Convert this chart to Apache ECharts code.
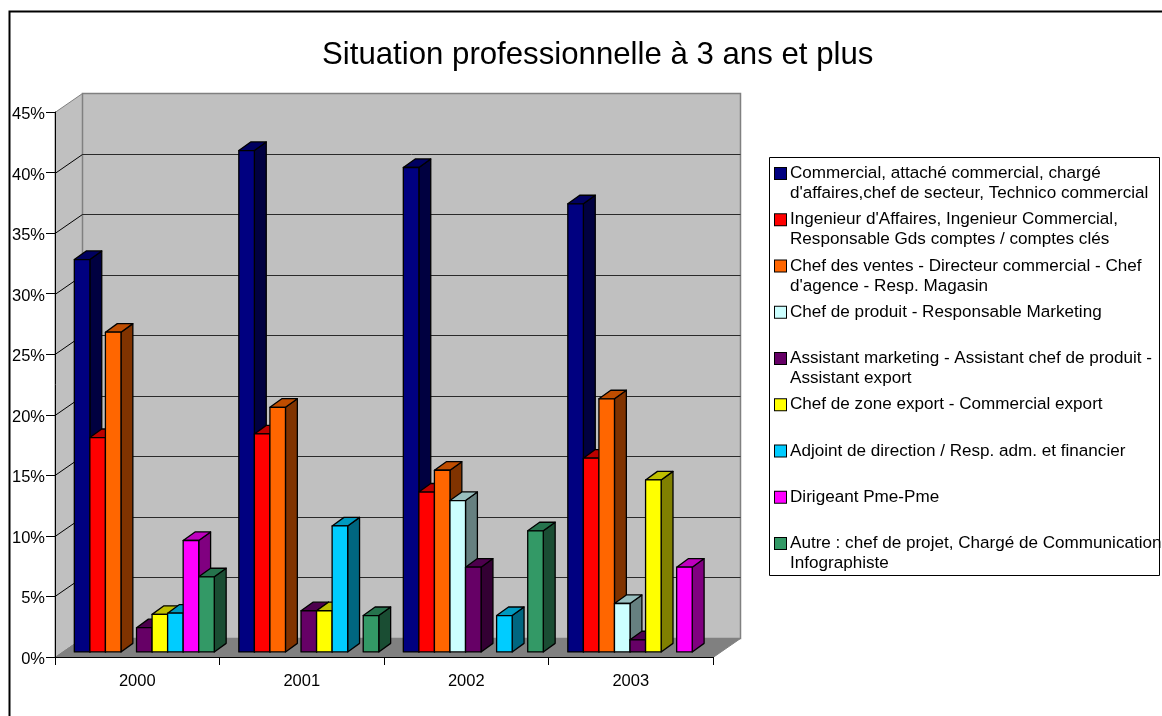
<!DOCTYPE html>
<html>
<head>
<meta charset="utf-8">
<style>html,body{margin:0;padding:0;background:#fff}#chart{width:1162px;height:716px}</style>
<script src="https://cdn.jsdelivr.net/npm/echarts@6/dist/echarts.min.js"></script>
</head>
<body>
<div id="chart"></div>
<script>
const years = ['2000', '2001', '2002', '2003'];
const yTicks = [0, 5, 10, 15, 20, 25, 30, 35, 40, 45];
const names = [
	"Commercial, attaché commercial, chargé\nd'affaires,chef de secteur, Technico commercial",
	"Ingenieur d'Affaires, Ingenieur Commercial,\nResponsable Gds comptes / comptes clés",
	"Chef des ventes - Directeur commercial - Chef\nd'agence - Resp. Magasin",
	"Chef de produit - Responsable Marketing",
	"Assistant marketing - Assistant chef de produit -\nAssistant export",
	"Chef de zone export - Commercial export",
	"Adjoint de direction / Resp. adm. et financier",
	"Dirigeant Pme-Pme",
	"Autre : chef de projet, Chargé de Communication,\nInfographiste"
];
const colors = ['#000080', '#ff0000', '#ff6600', '#ccffff', '#660066', '#ffff00', '#00ccff', '#ff00ff', '#339966'];
const commercial = [32.4, 41.4, 40.0, 37.0];
const ingenieur = [17.7, 18.0, 13.2, 16.0];
const chefVentes = [26.4, 20.2, 15.0, 20.9];
const chefProduit = [null, null, 12.5, 4.0];
const assistant = [2.0, 3.4, 7.0, 1.0];
const chefZone = [3.1, 3.4, null, 14.2];
const adjoint = [3.2, 10.4, 3.0, null];
const dirigeant = [9.2, null, null, 7.0];
const autre = [6.2, 3.0, 10.0, null];
const seriesValues = [commercial, ingenieur, chefVentes, chefProduit, assistant, chefZone, adjoint, dirigeant, autre];

// fake 3D depth of the box, in pixels
const depthX = 27, depthY = 19.5;
const barDepth = [0.26, 0.7];
const barW = 15.55, barMargin = 12.3;

function shade(hex, k) {
	let n = parseInt(hex.slice(1), 16);
	let c = [n >> 16, (n >> 8) & 255, n & 255].map(v => Math.round(v * k));
	return 'rgb(' + c.join(',') + ')';
}
function px(v) {
	return Math.round(v) + 0.5;
}

function renderWalls(params, api) {
	let tick = api.value(0);
	let p0 = api.coord([0, tick]);
	let left = p0[0] - api.size([1, 0])[0] / 2;
	let right = left + api.size([1, 0])[0] * years.length;
	let y = px(p0[1]);
	let children = [];
	if (tick === yTicks[0]) {
		let top = px(api.coord([0, yTicks[yTicks.length - 1]])[1]);
		let bx = px(left + depthX), rx = px(right + depthX), by = px(y - depthY), ty = px(top - depthY);
		children.push({ type: 'polygon', shape: { points: [[left, top], [bx, ty], [bx, by], [left, y]] }, style: { fill: '#c0c0c0', stroke: '#808080', lineWidth: 1 } });
		children.push({ type: 'rect', shape: { x: bx, y: ty, width: rx - bx, height: by - ty }, style: { fill: '#c0c0c0', stroke: '#808080', lineWidth: 1.5 } });
		children.push({ type: 'polygon', shape: { points: [[left, y], [bx, by], [rx, by], [right, y]] }, style: { fill: '#808080', stroke: '#808080', lineWidth: 1 } });
	} else if (tick !== yTicks[yTicks.length - 1]) {
		children.push({ type: 'line', shape: { x1: px(left + depthX), y1: px(y - depthY), x2: px(right + depthX), y2: px(y - depthY) }, style: { stroke: '#2a2a2a', lineWidth: 1 } });
		children.push({ type: 'line', shape: { x1: left, y1: y, x2: px(left + depthX), y2: px(y - depthY) }, style: { stroke: '#000', lineWidth: 1 } });
	}
	return { type: 'group', children: children };
}

function makeBarRender(s) {
	return function (params, api) {
		let val = api.value(1);
		if (val == null || isNaN(val)) return null;
		let band = api.size([1, 0])[0];
		let base = api.coord([api.value(0), 0]);
		let top = api.coord([api.value(0), val]);
		let x0 = base[0] - band / 2 + barMargin + s * barW;
		let fx = depthX * barDepth[0], fy = depthY * barDepth[0];
		let dx = depthX * (barDepth[1] - barDepth[0]), dy = depthY * (barDepth[1] - barDepth[0]);
		let xl = x0 + fx, xr = xl + barW, yb = base[1] - fy, yt = top[1] - fy;
		let st = { stroke: '#000', lineWidth: 1.3, lineJoin: 'round' };
		return {
			type: 'group',
			children: [
				{ type: 'polygon', shape: { points: [[xr, yb], [xr + dx, yb - dy], [xr + dx, yt - dy], [xr, yt]] }, style: Object.assign({ fill: shade(colors[s], 0.5) }, st) },
				{ type: 'polygon', shape: { points: [[xl, yt], [xl + dx, yt - dy], [xr + dx, yt - dy], [xr, yt]] }, style: Object.assign({ fill: shade(colors[s], 0.75) }, st) },
				{ type: 'rect', shape: { x: xl, y: yt, width: barW, height: yb - yt }, style: Object.assign({ fill: colors[s] }, st) }
			]
		};
	};
}

let series = [{
	type: 'custom',
	name: 'walls',
	z: 1,
	silent: true,
	renderItem: renderWalls,
	encode: { y: 0 },
	data: yTicks.map(v => [v])
}];
names.forEach((name, s) => {
	series.push({
		type: 'custom',
		name: name,
		z: 2,
		itemStyle: { color: colors[s] },
		renderItem: makeBarRender(s),
		encode: { x: 0, y: 1 },
		data: seriesValues[s].map((v, i) => [i, v])
	});
});

// swatch + text are rich text so the square stays on the first line of each entry
let rich = {
	t: { fontFamily: 'Liberation Sans', fontSize: 17.1, color: '#000', lineHeight: 20 },
	ind: { width: 15, height: 10 }
};
colors.forEach((c, i) => {
	rich['s' + i] = { width: 11, height: 11, backgroundColor: c, borderColor: '#000', borderWidth: 1, align: 'left' };
	rich['g' + i] = { width: 4 };
});

let option = {
	animation: false,
	backgroundColor: '#fff',
	title: {
		text: 'Situation professionnelle à 3 ans et plus',
		left: 322,
		top: 40,
		padding: 0,
		textStyle: { fontFamily: 'Liberation Sans', fontSize: 31.2, fontWeight: 'normal', color: '#000' }
	},
	grid: { left: 55, top: 112, width: 658, height: 545 },
	xAxis: {
		type: 'category',
		data: years,
		z: 5,
		axisLine: { lineStyle: { color: '#000', width: 1 } },
		axisTick: { show: true, length: 8, lineStyle: { color: '#000' } },
		axisLabel: { margin: 16, color: '#000', fontFamily: 'Liberation Sans', fontSize: 16.5 }
	},
	yAxis: {
		type: 'value',
		min: 0,
		max: 45,
		interval: 5,
		z: 5,
		axisLine: { show: true, lineStyle: { color: '#000', width: 1 } },
		axisTick: { show: true, length: 9, lineStyle: { color: '#000' } },
		splitLine: { show: false },
		axisLabel: { margin: 10, verticalAlign: 'top', lineHeight: 5, color: '#000', fontFamily: 'Liberation Sans', fontSize: 16.5, formatter: '{value}%' }
	},
	legend: {
		orient: 'vertical',
		left: 770,
		top: 165,
		icon: 'none',
		itemWidth: 0,
		itemHeight: 14,
		itemGap: 9.25,
		padding: 0,
		data: names,
		formatter: function (name) {
			let i = names.indexOf(name);
			let lines = name.split('\n');
			let second = lines[1] ? '{ind|}{t|' + lines[1] + '}' : '{ind|}{t| }';
			return '{s' + i + '|}{g' + i + '|}{t|' + lines[0] + '}\n' + second;
		},
		textStyle: { rich: rich, fontFamily: 'Liberation Sans', fontSize: 17.1 }
	},
	graphic: [{
		type: 'rect',
		silent: true,
		z: -1,
		shape: { x: 9.5, y: 11.5, width: 1160, height: 720 },
		style: { fill: 'none', stroke: '#000', lineWidth: 2 }
	}, {
		type: 'rect',
		silent: true,
		z: -1,
		shape: { x: 769.5, y: 157.5, width: 390, height: 418 },
		style: { fill: '#fff', stroke: '#000', lineWidth: 1 }
	}],
	series: series
};

let myChart = echarts.init(document.getElementById('chart'), '', { renderer: 'canvas' });
myChart.setOption(option);
</script>
</body>
</html>
